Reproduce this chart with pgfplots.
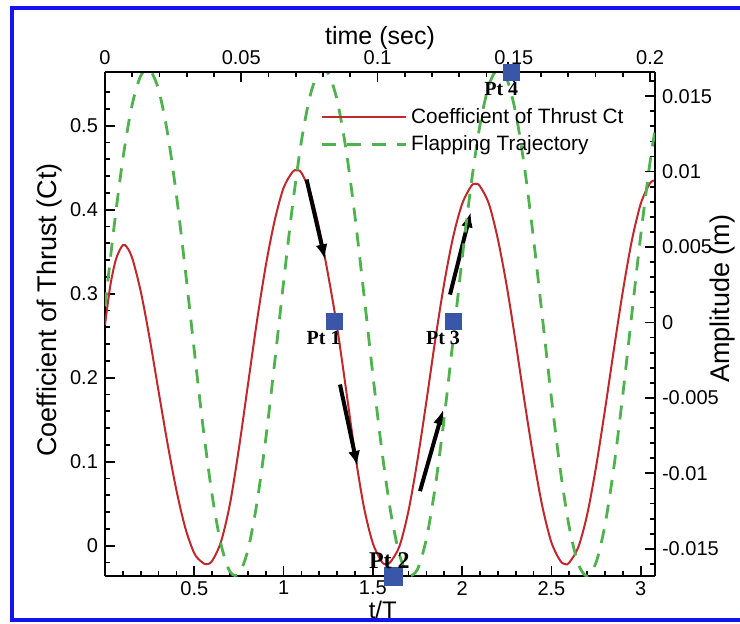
\documentclass[border=0pt]{standalone}
\usepackage{fontspec}
\setmainfont{Liberation Sans}
\newfontfamily\timesfont{Liberation Serif}
\usepackage{pgfplots}
\pgfplotsset{compat=1.18}
\usetikzlibrary{arrows.meta}
\definecolor{ctred}{RGB}{192,40,45}
\definecolor{trajgreen}{RGB}{80,178,78}
\definecolor{ptblue}{RGB}{58,86,168}
\definecolor{framecol}{RGB}{20,20,240}

\pgfplotsset{
  base/.style={
    scale only axis, width=275pt, height=252pt,
    at={(0,0)}, anchor=south west,
    tick align=inside,
    scaled x ticks=false, scaled y ticks=false,
    major tick length=5pt, minor tick length=2.5pt,
    every tick/.style={black, line width=0.9pt},
    axis line style={black, line width=1.2pt},
    tick label style={font=\fontsize{10}{11}\selectfont},
    label style={font=\fontsize{13}{15}\selectfont},
  },
}

\begin{document}
\begin{tikzpicture}
\useasboundingbox (-52.5pt,-23.5pt) rectangle (317.5pt,288pt);
\draw[framecol, line width=1.6pt] (320pt,284pt) -- (-46.5pt,284pt) -- (-46.5pt,-22pt) -- (320pt,-22pt);

% Ct against t/T, left and bottom axes
\begin{axis}[base,
  axis x line*=bottom, axis y line*=left,
  xmin=0, xmax=3.08, ymin=-0.036, ymax=0.564,
  xtick={0.5,1,1.5,2,2.5,3}, xticklabels={0.5,1,1.5,2,2.5,3},
  xticklabel style={yshift=1pt},
  minor xtick={0.1,0.2,0.3,0.4,0.6,0.7,0.8,0.9,1.1,1.2,1.3,1.4,1.6,1.7,1.8,1.9,2.1,2.2,2.3,2.4,2.6,2.7,2.8,2.9,3.0},
  ytick={0,0.1,0.2,0.3,0.4,0.5}, yticklabels={0,0.1,0.2,0.3,0.4,0.5},
  minor ytick={-0.02,0.02,0.04,0.06,0.08,0.12,0.14,0.16,0.18,0.22,0.24,0.26,0.28,0.32,0.34,0.36,0.38,0.42,0.44,0.46,0.48,0.52,0.54},
  xlabel={t/T}, ylabel={Coefficient of Thrust (Ct)},
  xlabel style={at={(axis description cs:0.505,-0.068)}, anchor=center, font=\fontsize{12}{14}\selectfont},
  ylabel style={at={(axis description cs:-0.1,0.528)}, anchor=center, font=\fontsize{13.5}{15}\selectfont},
]
\addplot[ctred, line width=1pt, smooth] coordinates {
(0,0.263)(0.03,0.31)(0.06,0.34)(0.09,0.355)(0.112,0.358)(0.15,0.344)(0.2,0.303)
(0.25,0.247)(0.3,0.184)(0.35,0.122)(0.4,0.066)(0.45,0.021)(0.5,-0.009)(0.54,-0.019)
(0.568,-0.022)(0.6,-0.018)(0.65,0.005)(0.7,0.050)(0.75,0.116)(0.8,0.191)(0.85,0.266)
(0.9,0.333)(0.95,0.387)(1.0,0.426)(1.05,0.445)(1.073,0.447)(1.1,0.444)(1.15,0.420)
(1.2,0.377)(1.25,0.322)(1.3,0.260)(1.35,0.186)(1.4,0.110)(1.45,0.046)(1.5,0.003)
(1.55,-0.019)(1.576,-0.022)(1.6,-0.019)(1.65,0.000)(1.7,0.042)(1.75,0.102)(1.8,0.172)
(1.85,0.246)(1.9,0.313)(1.95,0.368)(2.0,0.407)(2.05,0.428)(2.075,0.431)(2.1,0.428)
(2.15,0.407)(2.2,0.365)(2.25,0.309)(2.3,0.242)(2.35,0.171)(2.4,0.104)(2.45,0.046)
(2.5,0.004)(2.55,-0.018)(2.58,-0.022)(2.6,-0.020)(2.65,-0.002)(2.7,0.037)(2.75,0.094)
(2.8,0.162)(2.85,0.234)(2.9,0.303)(2.95,0.363)(3.0,0.407)(3.05,0.431)(3.08,0.435)
};
\draw[black, line width=2pt, -{Latex[length=7.5pt,width=6pt]}] (axis cs:1.129,0.436) -- (axis cs:1.232,0.341);
\draw[black, line width=2pt, -{Latex[length=7.5pt,width=6pt]}] (axis cs:1.316,0.192) -- (axis cs:1.413,0.095);
\draw[black, line width=2pt, -{Latex[length=7.5pt,width=6pt]}] (axis cs:1.764,0.065) -- (axis cs:1.894,0.162);
\draw[black, line width=2pt, -{Latex[length=7.5pt,width=6pt]}] (axis cs:1.932,0.299) -- (axis cs:2.048,0.397);
\end{axis}

% flapping trajectory, right axis
\begin{axis}[base,
  axis x line=none, axis y line*=right,
  xmin=0, xmax=3.08, ymin=-0.0168, ymax=0.0166,
  ytick={-0.015,-0.01,-0.005,0,0.005,0.01,0.015},
  yticklabels={-0.015,-0.01,-0.005,0,0.005,0.01,0.015},
  minor ytick={-0.016,-0.014,-0.013,-0.012,-0.011,-0.009,-0.008,-0.007,-0.006,-0.004,-0.003,-0.002,-0.001,0.001,0.002,0.003,0.004,0.006,0.007,0.008,0.009,0.011,0.012,0.013,0.014,0.016},
  ylabel={Amplitude (m)},
  ylabel style={at={(axis description cs:1.122,0.55)}, anchor=center, font=\fontsize{13.5}{15}\selectfont},
  legend style={at={(axis description cs:0.38,0.945)}, anchor=north west,
    draw=none, fill=none, font=\fontsize{10.4}{12}\selectfont, row sep=0.5pt,
    /tikz/every even column/.append style={column sep=9pt}},
  legend cell align=left,
  legend image code/.code={\draw[#1] (0pt,0pt) -- (42pt,0pt);},
]
\addlegendimage{ctred, line width=1pt}
\addlegendentry{Coefficient of Thrust Ct}
\addplot[trajgreen, line width=1.4pt, dash pattern=on 7pt off 5.5pt, smooth] coordinates {
(0,0.00107)(0.05,0.00627)(0.1,0.01084)(0.15,0.01432)(0.2,0.01635)(0.25,0.01674)
(0.3,0.01543)(0.35,0.01257)(0.4,0.00844)(0.45,0.00346)(0.5,-0.00187)(0.55,-0.00701)
(0.6,-0.01144)(0.65,-0.01472)(0.7,-0.01652)(0.75,-0.01665)(0.8,-0.01509)(0.85,-0.01202)
(0.9,-0.00773)(0.95,-0.00267)(1.0,0.00267)(1.05,0.00773)(1.1,0.01202)(1.15,0.01509)
(1.2,0.01665)(1.25,0.01652)(1.3,0.01472)(1.35,0.01144)(1.4,0.00701)(1.45,0.00187)
(1.5,-0.00346)(1.55,-0.00844)(1.6,-0.01257)(1.65,-0.01543)(1.7,-0.01673)(1.75,-0.01635)
(1.8,-0.01432)(1.85,-0.01084)(1.9,-0.00627)(1.95,-0.00107)(2.0,0.00424)(2.05,0.00912)
(2.1,0.01309)(2.15,0.01573)(2.2,0.01679)(2.25,0.01615)(2.3,0.01389)(2.35,0.01022)
(2.4,0.00553)(2.45,0.00027)(2.5,-0.00501)(2.55,-0.00979)(2.6,-0.01357)(2.65,-0.01599)
(2.7,-0.01680)(2.75,-0.01591)(2.8,-0.01342)(2.85,-0.00957)(2.9,-0.00476)(2.95,0.00053)
(3.0,0.00577)(3.05,0.01043)(3.08,0.01274)
};
\addlegendentry{Flapping Trajectory}
\end{axis}

% time axis on top
\begin{axis}[base,
  axis x line*=top, axis y line=none,
  xmin=0, xmax=0.2018, ymin=0, ymax=1,
  xtick={0,0.05,0.1,0.15,0.2}, xticklabels={0,0.05,0.1,0.15,0.2},
  minor xtick={0.01,0.02,0.03,0.04,0.06,0.07,0.08,0.09,0.11,0.12,0.13,0.14,0.16,0.17,0.18,0.19},
  xlabel={time (sec)},
  xlabel style={at={(axis description cs:0.5,1.0675)}, anchor=center, font=\fontsize{12.5}{14}\selectfont},
]
\end{axis}

% stroke positions Pt 1 - Pt 4
\begin{axis}[base, hide axis, clip=false,
  xmin=0, xmax=3.08, ymin=-0.0168, ymax=0.0166]
\addplot[only marks, mark=square*, mark size=4pt, color=ptblue,
  nodes near coords, point meta=explicit symbolic,
  every node near coord/.style={anchor=north east, xshift=4pt, yshift=-4.5pt, inner sep=0.5pt,
    black, font=\timesfont\bfseries\fontsize{10}{11}\selectfont}]
  coordinates {(1.282,0.0001)[Pt 1] (1.951,0.0001)[Pt 3] (2.277,0.0166)[Pt 4]};
\addplot[only marks, mark=square*, mark size=4.5pt, color=ptblue,
  nodes near coords, point meta=explicit symbolic,
  every node near coord/.style={anchor=south, xshift=-2pt, yshift=3pt, inner sep=0.5pt,
    black, font=\timesfont\bfseries\fontsize{12}{13}\selectfont}]
  coordinates {(1.615,-0.0168)[Pt 2]};
\end{axis}
\end{tikzpicture}
\end{document}
